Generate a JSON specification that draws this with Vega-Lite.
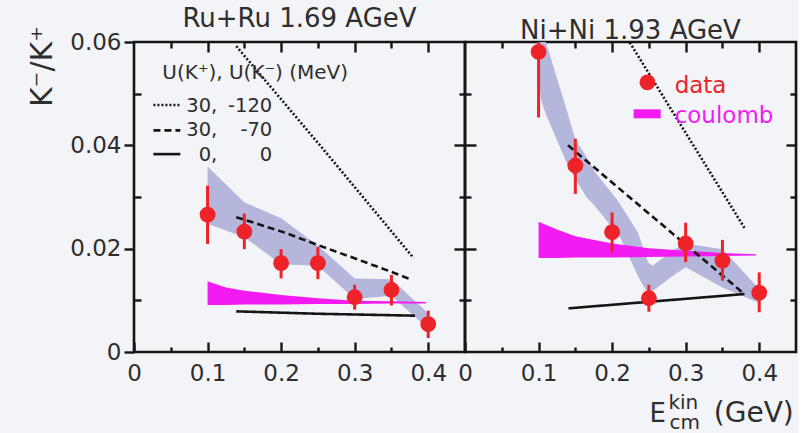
{
  "$schema": "https://vega.github.io/schema/vega-lite/v6.json",
  "padding": {"left": 25, "top": 5, "right": 0, "bottom": 0},
  "background": "#f3f4f7",
  "spacing": 0,
  "bounds": "flush",
  "config": {
    "font": "DejaVu Sans",
    "view": {"stroke": "#151515", "strokeWidth": 2.6},
    "axis": {"domain": false, "grid": false, "labelFont": "DejaVu Sans", "labelFontSize": 23, "labelColor": "#2e2e2e", "tickColor": "#151515", "tickWidth": 2.4, "labelOverlap": false, "labelFlush": false, "labelBound": false},
    "title": {"font": "DejaVu Sans", "fontSize": 26, "fontWeight": "normal", "color": "#2e2e2e", "offset": -7, "baseline": "alphabetic", "anchor": "middle"}
  },
  "datasets": {
    "ruPts": [
      {"x": 0.10, "y": 0.0266, "lo": 0.0209, "hi": 0.0322},
      {"x": 0.15, "y": 0.0233, "lo": 0.0199, "hi": 0.0268},
      {"x": 0.20, "y": 0.0172, "lo": 0.01425, "hi": 0.0199},
      {"x": 0.25, "y": 0.0172, "lo": 0.0141, "hi": 0.0203},
      {"x": 0.30, "y": 0.0106, "lo": 0.0082, "hi": 0.0130},
      {"x": 0.35, "y": 0.0120, "lo": 0.0090, "hi": 0.0149},
      {"x": 0.40, "y": 0.0054, "lo": 0.0027, "hi": 0.0080}
    ],
    "niPts": [
      {"x": 0.10, "y": 0.0581, "lo": 0.0454, "hi": 0.0600},
      {"x": 0.15, "y": 0.0361, "lo": 0.0306, "hi": 0.0413},
      {"x": 0.20, "y": 0.0232, "lo": 0.0193, "hi": 0.0270},
      {"x": 0.25, "y": 0.0104, "lo": 0.0078, "hi": 0.0130},
      {"x": 0.30, "y": 0.0210, "lo": 0.0174, "hi": 0.0250},
      {"x": 0.35, "y": 0.0177, "lo": 0.0138, "hi": 0.0217},
      {"x": 0.40, "y": 0.0115, "lo": 0.0077, "hi": 0.0154}
    ],
    "ruBand": [
      {"x": 0.10, "lo": 0.0248, "hi": 0.0359},
      {"x": 0.15, "lo": 0.0222, "hi": 0.0290},
      {"x": 0.20, "lo": 0.0170, "hi": 0.0259},
      {"x": 0.25, "lo": 0.0167, "hi": 0.0206},
      {"x": 0.30, "lo": 0.01025, "hi": 0.01425},
      {"x": 0.35, "lo": 0.0109, "hi": 0.0141},
      {"x": 0.40, "lo": 0.0045, "hi": 0.0075}
    ],
    "niBand": [
      {"x": 0.100, "lo": 0.0540, "hi": 0.0600},
      {"x": 0.103, "lo": 0.0489, "hi": 0.0600},
      {"x": 0.110, "lo": 0.0460, "hi": 0.0600},
      {"x": 0.140, "lo": 0.0360, "hi": 0.0460},
      {"x": 0.150, "lo": 0.0335, "hi": 0.0412},
      {"x": 0.165, "lo": 0.0300, "hi": 0.0378},
      {"x": 0.177, "lo": 0.0282, "hi": 0.0348},
      {"x": 0.206, "lo": 0.0230, "hi": 0.0296},
      {"x": 0.212, "lo": 0.0219, "hi": 0.0283},
      {"x": 0.235, "lo": 0.0147, "hi": 0.0232},
      {"x": 0.249, "lo": 0.0112, "hi": 0.0173},
      {"x": 0.255, "lo": 0.0118, "hi": 0.0167},
      {"x": 0.285, "lo": 0.0150, "hi": 0.0199},
      {"x": 0.300, "lo": 0.0164, "hi": 0.0210},
      {"x": 0.350, "lo": 0.0125, "hi": 0.0199},
      {"x": 0.400, "lo": 0.0095, "hi": 0.0122}
    ],
    "ruCoul": [
      {"x": 0.100, "lo": 0.00909, "hi": 0.01367},
      {"x": 0.125, "lo": 0.0091, "hi": 0.0125},
      {"x": 0.150, "lo": 0.0092, "hi": 0.01186},
      {"x": 0.200, "lo": 0.0092, "hi": 0.01103},
      {"x": 0.250, "lo": 0.0093, "hi": 0.0104},
      {"x": 0.300, "lo": 0.0093, "hi": 0.00993},
      {"x": 0.350, "lo": 0.0094, "hi": 0.0098},
      {"x": 0.397, "lo": 0.0094, "hi": 0.0097}
    ],
    "niCoul": [
      {"x": 0.100, "lo": 0.01818, "hi": 0.0252},
      {"x": 0.125, "lo": 0.0182, "hi": 0.0237},
      {"x": 0.150, "lo": 0.0183, "hi": 0.0224},
      {"x": 0.200, "lo": 0.0183, "hi": 0.0210},
      {"x": 0.250, "lo": 0.0184, "hi": 0.0201},
      {"x": 0.300, "lo": 0.0185, "hi": 0.0196},
      {"x": 0.350, "lo": 0.0186, "hi": 0.01915},
      {"x": 0.3955, "lo": 0.0187, "hi": 0.0189}
    ],
    "curves": [
      {"panel": "Ru", "model": "30, -120", "x": 0.139, "y": 0.0592},
      {"panel": "Ru", "model": "30, -120", "x": 0.257, "y": 0.0393},
      {"panel": "Ru", "model": "30, -120", "x": 0.380, "y": 0.0182},
      {"panel": "Ru", "model": "30, -70", "x": 0.139, "y": 0.0261},
      {"panel": "Ru", "model": "30, -70", "x": 0.203, "y": 0.0232},
      {"panel": "Ru", "model": "30, -70", "x": 0.250, "y": 0.0207},
      {"panel": "Ru", "model": "30, -70", "x": 0.3025, "y": 0.0180},
      {"panel": "Ru", "model": "30, -70", "x": 0.352, "y": 0.0154},
      {"panel": "Ru", "model": "30, -70", "x": 0.375, "y": 0.0141},
      {"panel": "Ru", "model": "0, 0", "x": 0.139, "y": 0.00787},
      {"panel": "Ru", "model": "0, 0", "x": 0.250, "y": 0.0074},
      {"panel": "Ru", "model": "0, 0", "x": 0.382, "y": 0.00703},
      {"panel": "Ni", "model": "30, -120", "x": 0.224, "y": 0.0599},
      {"panel": "Ni", "model": "30, -120", "x": 0.380, "y": 0.0240},
      {"panel": "Ni", "model": "30, -70", "x": 0.140, "y": 0.0400},
      {"panel": "Ni", "model": "30, -70", "x": 0.380, "y": 0.0112},
      {"panel": "Ni", "model": "0, 0", "x": 0.1407, "y": 0.00845},
      {"panel": "Ni", "model": "0, 0", "x": 0.380, "y": 0.01122}
    ]
  },
  "hconcat": [
    {
      "width": 331,
      "height": 310,
      "title": {"text": "Ru+Ru 1.69 AGeV"},
      "resolve": {"axis": {"x": "independent", "y": "independent"}},
      "layer": [
        {
          "data": {"name": "ruBand"},
          "mark": {"type": "area", "color": "#b4b6dc", "opacity": 1},
          "encoding": {
            "x": {"field": "x", "type": "quantitative", "scale": {"domain": [0, 0.45], "nice": false, "zero": false},
              "axis": {"orient": "bottom", "title": null, "values": [0, 0.05, 0.1, 0.15, 0.2, 0.25, 0.3, 0.35, 0.4],
                "labelExpr": "abs(datum.value*10 - round(datum.value*10)) < 0.001 ? (datum.value == 0 ? '0' : format(datum.value, '.1f')) : ''",
                "tickSize": {"condition": {"test": "abs(datum.value*10 - round(datum.value*10)) < 0.001", "value": -10}, "value": -5},
                "labelPadding": 20}},
            "y": {"field": "lo", "type": "quantitative", "scale": {"domain": [0, 0.06], "nice": false, "zero": false},
              "axis": {"orient": "left", "title": "K⁻/K⁺", "titleFontSize": 30, "titleFontWeight": "normal", "titleColor": "#2e2e2e", "titleAngle": -90, "titleAlign": "center", "titleBaseline": "alphabetic", "titleX": -83, "titleY": 24,
                "values": [0, 0.01, 0.02, 0.03, 0.04, 0.05, 0.06],
                "labelExpr": "abs(datum.value*50 - round(datum.value*50)) < 0.001 ? (datum.value == 0 ? '0' : format(datum.value, '.2f')) : ''",
                "tickSize": {"condition": {"test": "abs(datum.value*50 - round(datum.value*50)) < 0.001", "value": 10}, "value": -7},
                "labelPadding": 3}},
            "y2": {"field": "hi"}
          }
        },
        {
          "data": {"name": "ruCoul"},
          "mark": {"type": "area", "color": "#f21bf2"},
          "encoding": {
            "x": {"field": "x", "type": "quantitative", "scale": {"domain": [0, 0.45], "nice": false, "zero": false},
              "axis": {"orient": "top", "title": null, "labels": false, "values": [0.05, 0.1, 0.15, 0.2, 0.25, 0.3, 0.35, 0.4],
                "tickSize": {"condition": {"test": "abs(datum.value*10 - round(datum.value*10)) < 0.001", "value": -10}, "value": -6}}},
            "y": {"field": "lo", "type": "quantitative", "scale": {"domain": [0, 0.06], "nice": false, "zero": false},
              "axis": {"orient": "right", "title": null, "labels": false, "values": [0.01, 0.02, 0.03, 0.04, 0.05],
                "tickSize": {"condition": {"test": "abs(datum.value*50 - round(datum.value*50)) < 0.001", "value": -11}, "value": -6}}},
            "y2": {"field": "hi"}
          }
        },
        {
          "data": {"name": "curves"},
          "transform": [{"filter": "datum.panel == 'Ru'"}],
          "mark": {"type": "line", "color": "#151515", "strokeWidth": 2.6},
          "encoding": {
            "x": {"field": "x", "type": "quantitative", "scale": {"domain": [0, 0.45], "nice": false, "zero": false}, "axis": null},
            "y": {"field": "y", "type": "quantitative", "scale": {"domain": [0, 0.06], "nice": false, "zero": false}, "axis": null},
            "strokeDash": {"field": "model", "type": "nominal", "scale": {"domain": ["30, -120", "30, -70", "0, 0"], "range": [[2, 2], [7, 4], [1, 0]]}, "legend": null}
          }
        },
        {
          "data": {"name": "ruPts"},
          "mark": {"type": "rule", "color": "#ee2229", "strokeWidth": 3},
          "encoding": {
            "x": {"field": "x", "type": "quantitative", "scale": {"domain": [0, 0.45], "nice": false, "zero": false}, "axis": null},
            "y": {"field": "lo", "type": "quantitative", "scale": {"domain": [0, 0.06], "nice": false, "zero": false}, "axis": null},
            "y2": {"field": "hi"}
          }
        },
        {
          "data": {"name": "ruPts"},
          "mark": {"type": "circle", "color": "#ee2229", "opacity": 1, "size": 250},
          "encoding": {
            "x": {"field": "x", "type": "quantitative", "scale": {"domain": [0, 0.45], "nice": false, "zero": false}, "axis": null},
            "y": {"field": "y", "type": "quantitative", "scale": {"domain": [0, 0.06], "nice": false, "zero": false}, "axis": null}
          }
        },
        {
          "data": {"values": [{}]},
          "mark": {"type": "text", "align": "left", "baseline": "alphabetic", "fontSize": 20, "color": "#2e2e2e"},
          "encoding": {
            "x": {"datum": 0.0385, "type": "quantitative", "scale": {"domain": [0, 0.45], "nice": false, "zero": false}, "axis": null},
            "y": {"datum": 0.0528, "type": "quantitative", "scale": {"domain": [0, 0.06], "nice": false, "zero": false}, "axis": null},
            "text": {"value": "U(K⁺), U(K⁻) (MeV)"}
          }
        },
        {
          "data": {"values": [{}]},
          "mark": {"type": "rule", "color": "#151515", "strokeWidth": 2.6, "strokeDash": [2, 2]},
          "encoding": {
            "x": {"datum": 0.0264, "type": "quantitative", "scale": {"domain": [0, 0.45], "nice": false, "zero": false}, "axis": null},
            "x2": {"datum": 0.063},
            "y": {"datum": 0.0478, "type": "quantitative", "scale": {"domain": [0, 0.06], "nice": false, "zero": false}, "axis": null}
          }
        },
        {
          "data": {"values": [{}]},
          "mark": {"type": "rule", "color": "#151515", "strokeWidth": 2.6, "strokeDash": [7, 4]},
          "encoding": {
            "x": {"datum": 0.0264, "type": "quantitative", "scale": {"domain": [0, 0.45], "nice": false, "zero": false}, "axis": null},
            "x2": {"datum": 0.063},
            "y": {"datum": 0.0429, "type": "quantitative", "scale": {"domain": [0, 0.06], "nice": false, "zero": false}, "axis": null}
          }
        },
        {
          "data": {"values": [{}]},
          "mark": {"type": "rule", "color": "#151515", "strokeWidth": 2.6},
          "encoding": {
            "x": {"datum": 0.0264, "type": "quantitative", "scale": {"domain": [0, 0.45], "nice": false, "zero": false}, "axis": null},
            "x2": {"datum": 0.063},
            "y": {"datum": 0.0383, "type": "quantitative", "scale": {"domain": [0, 0.06], "nice": false, "zero": false}, "axis": null}
          }
        },
        {
          "data": {"values": [{"a": "30,", "b": "-120", "row": 0.04636}, {"a": "30,", "b": "-70", "row": 0.04172}, {"a": "0,", "b": "0", "row": 0.0370}]},
          "mark": {"type": "text", "align": "right", "baseline": "alphabetic", "fontSize": 19.5, "color": "#2e2e2e"},
          "encoding": {
            "x": {"datum": 0.1132, "type": "quantitative", "scale": {"domain": [0, 0.45], "nice": false, "zero": false}, "axis": null},
            "y": {"field": "row", "type": "quantitative", "scale": {"domain": [0, 0.06], "nice": false, "zero": false}, "axis": null},
            "text": {"field": "a"}
          }
        },
        {
          "data": {"values": [{"a": "30,", "b": "-120", "row": 0.04636}, {"a": "30,", "b": "-70", "row": 0.04172}, {"a": "0,", "b": "0", "row": 0.0370}]},
          "mark": {"type": "text", "align": "right", "baseline": "alphabetic", "fontSize": 19.5, "color": "#2e2e2e"},
          "encoding": {
            "x": {"datum": 0.188, "type": "quantitative", "scale": {"domain": [0, 0.45], "nice": false, "zero": false}, "axis": null},
            "y": {"field": "row", "type": "quantitative", "scale": {"domain": [0, 0.06], "nice": false, "zero": false}, "axis": null},
            "text": {"field": "b"}
          }
        }
      ]
    },
    {
      "width": 331,
      "height": 310,
      "title": {"text": "Ni+Ni 1.93 AGeV"},
      "resolve": {"axis": {"x": "independent", "y": "independent"}},
      "layer": [
        {
          "data": {"name": "niBand"},
          "mark": {"type": "area", "color": "#b4b6dc", "opacity": 1},
          "encoding": {
            "x": {"field": "x", "type": "quantitative", "scale": {"domain": [0, 0.45], "nice": false, "zero": false},
              "axis": {"orient": "bottom", "title": null, "values": [0, 0.05, 0.1, 0.15, 0.2, 0.25, 0.3, 0.35, 0.4],
                "labelExpr": "abs(datum.value*10 - round(datum.value*10)) < 0.001 ? (datum.value == 0 ? '0' : format(datum.value, '.1f')) : ''",
                "tickSize": {"condition": {"test": "abs(datum.value*10 - round(datum.value*10)) < 0.001", "value": -10}, "value": -5},
                "labelPadding": 20}},
            "y": {"field": "lo", "type": "quantitative", "scale": {"domain": [0, 0.06], "nice": false, "zero": false},
              "axis": {"orient": "left", "title": null, "labels": false, "values": [0.01, 0.02, 0.03, 0.04, 0.05],
                "tickSize": {"condition": {"test": "abs(datum.value*50 - round(datum.value*50)) < 0.001", "value": -11}, "value": -6}}},
            "y2": {"field": "hi"}
          }
        },
        {
          "data": {"name": "niCoul"},
          "mark": {"type": "area", "color": "#f21bf2"},
          "encoding": {
            "x": {"field": "x", "type": "quantitative", "scale": {"domain": [0, 0.45], "nice": false, "zero": false},
              "axis": {"orient": "top", "title": null, "labels": false, "values": [0.05, 0.1, 0.15, 0.2, 0.25, 0.3, 0.35, 0.4],
                "tickSize": {"condition": {"test": "abs(datum.value*10 - round(datum.value*10)) < 0.001", "value": -10}, "value": -6}}},
            "y": {"field": "lo", "type": "quantitative", "scale": {"domain": [0, 0.06], "nice": false, "zero": false},
              "axis": {"orient": "right", "title": null, "labels": false, "values": [0.01, 0.02, 0.03, 0.04, 0.05],
                "tickSize": {"condition": {"test": "abs(datum.value*50 - round(datum.value*50)) < 0.001", "value": -10}, "value": -6}}},
            "y2": {"field": "hi"}
          }
        },
        {
          "data": {"name": "curves"},
          "transform": [{"filter": "datum.panel == 'Ni'"}],
          "mark": {"type": "line", "color": "#151515", "strokeWidth": 2.6},
          "encoding": {
            "x": {"field": "x", "type": "quantitative", "scale": {"domain": [0, 0.45], "nice": false, "zero": false}, "axis": null},
            "y": {"field": "y", "type": "quantitative", "scale": {"domain": [0, 0.06], "nice": false, "zero": false}, "axis": null},
            "strokeDash": {"field": "model", "type": "nominal", "scale": {"domain": ["30, -120", "30, -70", "0, 0"], "range": [[2, 2], [7, 4], [1, 0]]}, "legend": null}
          }
        },
        {
          "data": {"name": "niPts"},
          "mark": {"type": "rule", "color": "#ee2229", "strokeWidth": 3},
          "encoding": {
            "x": {"field": "x", "type": "quantitative", "scale": {"domain": [0, 0.45], "nice": false, "zero": false}, "axis": null},
            "y": {"field": "lo", "type": "quantitative", "scale": {"domain": [0, 0.06], "nice": false, "zero": false}, "axis": null},
            "y2": {"field": "hi"}
          }
        },
        {
          "data": {"name": "niPts"},
          "mark": {"type": "circle", "color": "#ee2229", "opacity": 1, "size": 250},
          "encoding": {
            "x": {"field": "x", "type": "quantitative", "scale": {"domain": [0, 0.45], "nice": false, "zero": false}, "axis": null},
            "y": {"field": "y", "type": "quantitative", "scale": {"domain": [0, 0.06], "nice": false, "zero": false}, "axis": null}
          }
        },
        {
          "data": {"values": [{}]},
          "mark": {"type": "circle", "color": "#ee2229", "opacity": 1, "size": 250},
          "encoding": {
            "x": {"datum": 0.248, "type": "quantitative", "scale": {"domain": [0, 0.45], "nice": false, "zero": false}, "axis": null},
            "y": {"datum": 0.0522, "type": "quantitative", "scale": {"domain": [0, 0.06], "nice": false, "zero": false}, "axis": null}
          }
        },
        {
          "data": {"values": [{}]},
          "mark": {"type": "rule", "color": "#f21bf2", "strokeWidth": 9},
          "encoding": {
            "x": {"datum": 0.2292, "type": "quantitative", "scale": {"domain": [0, 0.45], "nice": false, "zero": false}, "axis": null},
            "x2": {"datum": 0.266},
            "y": {"datum": 0.0461, "type": "quantitative", "scale": {"domain": [0, 0.06], "nice": false, "zero": false}, "axis": null}
          }
        },
        {
          "data": {"values": [{}]},
          "mark": {"type": "text", "align": "left", "baseline": "alphabetic", "fontSize": 23, "color": "#ee2229"},
          "encoding": {
            "x": {"datum": 0.285, "type": "quantitative", "scale": {"domain": [0, 0.45], "nice": false, "zero": false}, "axis": null},
            "y": {"datum": 0.0502, "type": "quantitative", "scale": {"domain": [0, 0.06], "nice": false, "zero": false}, "axis": null},
            "text": {"value": "data"}
          }
        },
        {
          "data": {"values": [{}]},
          "mark": {"type": "text", "align": "left", "baseline": "alphabetic", "fontSize": 23, "color": "#f21bf2"},
          "encoding": {
            "x": {"datum": 0.285, "type": "quantitative", "scale": {"domain": [0, 0.45], "nice": false, "zero": false}, "axis": null},
            "y": {"datum": 0.0444, "type": "quantitative", "scale": {"domain": [0, 0.06], "nice": false, "zero": false}, "axis": null},
            "text": {"value": "coulomb"}
          }
        },
        {
          "data": {"values": [{}]},
          "mark": {"type": "text", "align": "left", "baseline": "alphabetic", "fontSize": 26, "color": "#2e2e2e"},
          "encoding": {
            "x": {"datum": 0.2508, "type": "quantitative", "scale": {"domain": [0, 0.45], "nice": false, "zero": false}, "axis": null},
            "y": {"datum": -0.01354, "type": "quantitative", "scale": {"domain": [0, 0.06], "nice": false, "zero": false}, "axis": null},
            "text": {"value": "E"}
          }
        },
        {
          "data": {"values": [{}]},
          "mark": {"type": "text", "align": "left", "baseline": "alphabetic", "fontSize": 20, "color": "#2e2e2e"},
          "encoding": {
            "x": {"datum": 0.2765, "type": "quantitative", "scale": {"domain": [0, 0.45], "nice": false, "zero": false}, "axis": null},
            "y": {"datum": -0.01103, "type": "quantitative", "scale": {"domain": [0, 0.06], "nice": false, "zero": false}, "axis": null},
            "text": {"value": "kin"}
          }
        },
        {
          "data": {"values": [{}]},
          "mark": {"type": "text", "align": "left", "baseline": "alphabetic", "fontSize": 20, "color": "#2e2e2e"},
          "encoding": {
            "x": {"datum": 0.278, "type": "quantitative", "scale": {"domain": [0, 0.45], "nice": false, "zero": false}, "axis": null},
            "y": {"datum": -0.0149, "type": "quantitative", "scale": {"domain": [0, 0.06], "nice": false, "zero": false}, "axis": null},
            "text": {"value": "cm"}
          }
        },
        {
          "data": {"values": [{}]},
          "mark": {"type": "text", "align": "right", "baseline": "alphabetic", "fontSize": 28, "color": "#2e2e2e"},
          "encoding": {
            "x": {"datum": 0.447, "type": "quantitative", "scale": {"domain": [0, 0.45], "nice": false, "zero": false}, "axis": null},
            "y": {"datum": -0.01354, "type": "quantitative", "scale": {"domain": [0, 0.06], "nice": false, "zero": false}, "axis": null},
            "text": {"value": "(GeV)"}
          }
        }
      ]
    }
  ]
}
